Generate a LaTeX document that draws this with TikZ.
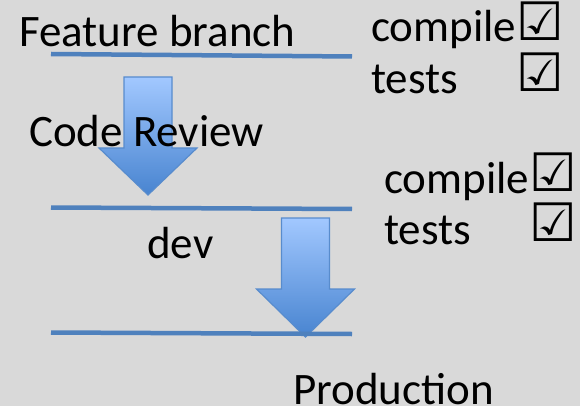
\documentclass[tikz,border=0pt]{standalone}
\usepackage{fontspec}
\setmainfont{Carlito}
\newfontfamily\symbolFont{DejaVu Sans}
\definecolor{backColor}{RGB}{217,217,217}
\definecolor{lineColor}{RGB}{79,129,189}
\definecolor{arrowTop}{RGB}{162,200,255}
\definecolor{arrowBottom}{RGB}{72,132,208}
\definecolor{arrowEdge}{RGB}{88,140,205}
\tikzstyle{canvas} = [x = 1pt, y = -1pt]
\tikzstyle{branchLine} = [color=lineColor, line width=4.5pt]
\tikzstyle{labelText} = [font=\fontsize{45}{50}\selectfont, inner sep=0pt, anchor=base west]
\tikzstyle{checkText} = [font=\symbolFont\bfseries\fontsize{53}{56}\selectfont, inner sep=0pt, anchor=base west]
\tikzstyle{arrowStyle} = [draw=arrowEdge, line width=1.2pt, top color=arrowTop, bottom color=arrowBottom]
\newcommand{\downArrow}[4]{\draw [arrowStyle] (#1 - 24, #2) -- (#1 + 24, #2) -- (#1 + 24, #3) -- (#1 + 49, #3) -- (#1, #4) -- (#1 - 49, #3) -- (#1 - 24, #3) -- cycle;}

\begin{document}
\begin{tikzpicture}[canvas]
  \fill [backColor] (0,0) rectangle (580,406);
  \useasboundingbox (0,0) rectangle (580,406);

  \downArrow{148}{77}{148}{195}
  \downArrow{305.5}{218}{289}{337}

  \coordinate (featureStart) at (51,54);
  \coordinate (featureEnd) at (352,56.5);
  \coordinate (devStart) at (51,207.5);
  \coordinate (devEnd) at (352,209);
  \coordinate (prodStart) at (51,332.5);
  \coordinate (prodEnd) at (352,334);
  \draw [branchLine] (featureStart) -- (featureEnd);
  \draw [branchLine] (devStart) -- (devEnd);
  \draw [branchLine] (prodStart) -- (prodEnd);

  \node [labelText] (featureLabel) at (19,47) {Feature branch};
  \node [labelText] (reviewLabel) at (29,147) {Code Review};
  \node [labelText] (devLabel) at (147,258) {dev};
  \node [labelText] (prodLabel) at (293,404) {Production};

  \node [labelText] (compileOne) at (371,42) {compile};
  \node [labelText] (testsOne) at (371,94) {tests};
  \node [checkText] (checkCompileOne) at (516,41) {☑};
  \node [checkText] (checkTestsOne) at (516,92) {☑};

  \node [labelText] (compileTwo) at (384,193) {compile};
  \node [labelText] (testsTwo) at (384,244) {tests};
  \node [checkText] (checkCompileTwo) at (529,191) {☑};
  \node [checkText] (checkTestsTwo) at (529,241) {☑};
\end{tikzpicture}
\end{document}
